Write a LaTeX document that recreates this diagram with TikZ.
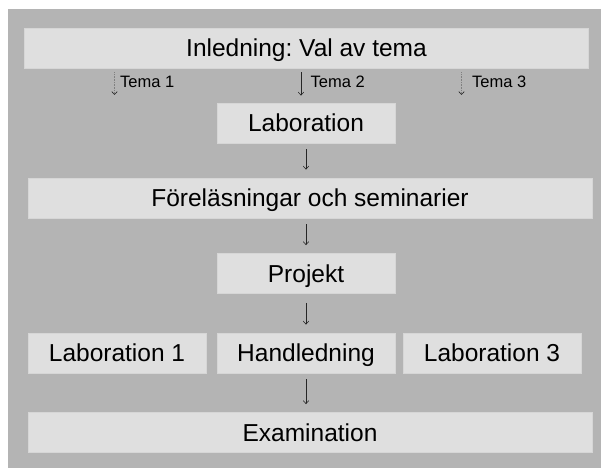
\documentclass[tikz,border=0pt]{standalone}
\usepackage{fontspec}
\setmainfont{Liberation Sans}
\frenchspacing
\usetikzlibrary{arrows.meta}
\definecolor{bggray}{RGB}{180,180,180}
\definecolor{boxgray}{RGB}{223,223,223}
\definecolor{boxedge}{RGB}{214,214,214}
\tikzset{stage/.style = {fill=boxgray, draw=boxedge, line width=0.8pt,
                         minimum height=40pt, inner sep=0pt,
                         text height=20pt, text depth=2.6pt,
                         font=\fontsize{24.5}{28}\selectfont}}
\tikzset{wide/.style = {stage, minimum width=564pt}}
\tikzset{narrow/.style = {stage, minimum width=178pt}}
\tikzset{flow/.style = {-{Straight Barb[length=3pt,width=5.5pt]}, line width=0.6pt,
                        black!85, shorten <=6pt, shorten >=8pt}}
\tikzset{choice/.style = {-{Straight Barb[length=3pt,width=5.5pt,color=black!85]},
                          line width=0.6pt, densely dotted, black!50, shorten <=4pt}}
\tikzset{temalabel/.style = {anchor=base west, inner sep=0pt,
                             font=\fontsize{16.5}{18}\selectfont}}

\begin{document}
\begin{tikzpicture}[x=1pt, y=-1pt]
      \useasboundingbox (0,0) rectangle (601,468);
      \fill [bggray] (8,9) rectangle (601,468);

      \node [wide] (intro) at (306.5,48) {Inledning: Val av tema};
      \node [narrow] (lab) at (306,123) {Laboration};
      \node [wide] (forel) at (310,198) {Föreläsningar och seminarier};
      \node [narrow] (proj) at (306,273.5) {Projekt};
      \node [narrow] (lab1) at (117,353) {Laboration 1};
      \node [narrow] (handl) at (306,353) {Handledning};
      \node [narrow] (lab3) at (492,353) {Laboration 3};
      \node [wide] (exam) at (310,432.5) {Examination};

      % val av tema
      \coordinate (t1) at (114.5,95);
      \coordinate (t2) at (301,95);
      \coordinate (t3) at (461.5,95);
      \draw [choice, shorten >=0pt] (t1 |- intro.south) -- (t1);
      \draw [flow, shorten <=4pt, shorten >=7pt] (t2 |- intro.south) -- (t2 |- lab.north);
      \draw [choice, shorten >=0pt] (t3 |- intro.south) -- (t3);
      \node [temalabel] (tema1) at (120,88) {Tema 1};
      \node [temalabel] (tema2) at (310.5,88) {Tema 2};
      \node [temalabel] (tema3) at (472,88) {Tema 3};

      \draw [flow] (lab.south) -- (lab.south |- forel.north);
      \draw [flow] (lab.south |- forel.south) -- (proj.north);
      \draw [flow, shorten <=9pt] (proj.south) -- (handl.north);
      \draw [flow] (handl.south) -- (handl.south |- exam.north);
\end{tikzpicture}
\end{document}
